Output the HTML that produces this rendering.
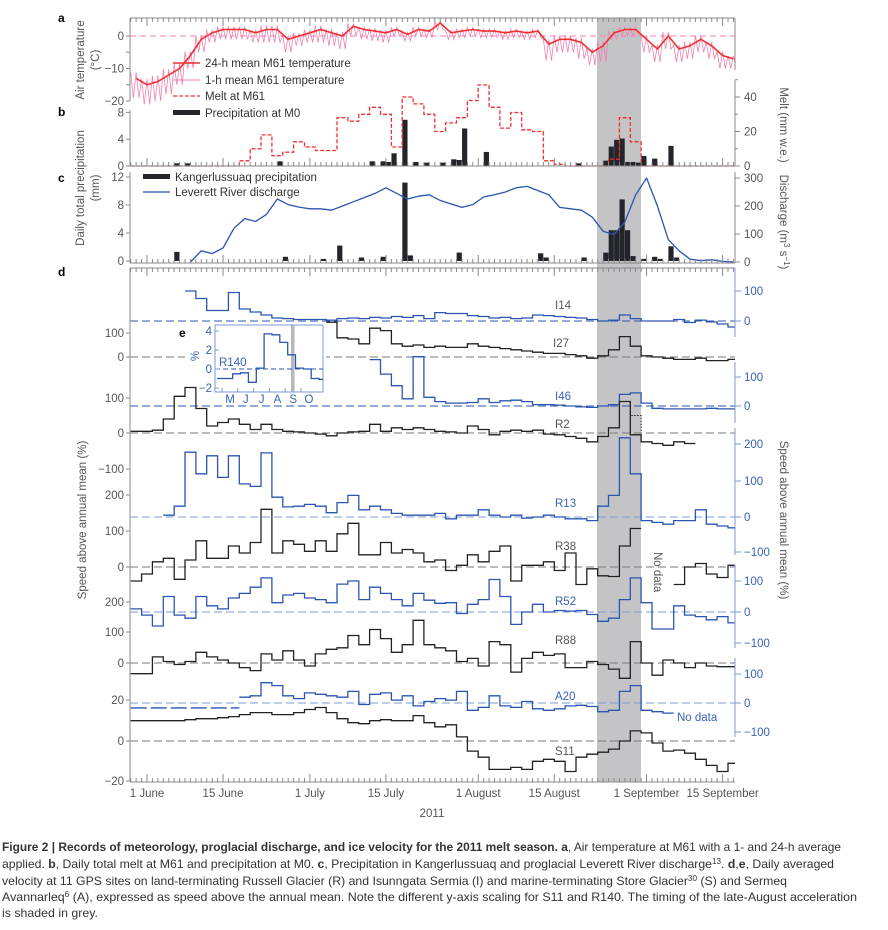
<!DOCTYPE html>
<html><head><meta charset="utf-8"><style>
body{margin:0;background:#fff;}
svg{display:block;font-family:"Liberation Sans",sans-serif;}
.t{font-size:11.5px;fill:#555;}
.tb{font-size:11.5px;fill:#3a62b8;}
.lg{font-size:11.5px;fill:#333;}
</style></head><body>
<svg id="fig" width="888" height="930" viewBox="0 0 888 930" xmlns="http://www.w3.org/2000/svg">
<defs><clipPath id="pc"><rect x="130" y="10" width="605" height="780"/></clipPath></defs>
<rect x="597" y="18" width="44" height="764" fill="#c4c4c6"/>
<g id="marks" clip-path="url(#pc)"></g>
<g id="axes" stroke="#888" fill="none" stroke-width="1"></g>
<text x="58" y="22" font-size="12" font-weight="bold">a</text>
<text x="58" y="116" font-size="12" font-weight="bold">b</text>
<text x="58" y="182" font-size="12" font-weight="bold">c</text>
<text x="58" y="276" font-size="12" font-weight="bold">d</text>
<text class="t" transform="translate(84,60) rotate(-90)" text-anchor="middle">Air temperature</text>
<text class="t" transform="translate(99,60) rotate(-90)" text-anchor="middle">(°C)</text>
<text class="t" transform="translate(84,188) rotate(-90)" text-anchor="middle">Daily total precipitation</text>
<text class="t" transform="translate(99,188) rotate(-90)" text-anchor="middle">(mm)</text>
<text class="t" transform="translate(780,125) rotate(90)" text-anchor="middle">Melt (mm w.e.)</text>
<text class="t" transform="translate(780,222) rotate(90)" text-anchor="middle">Discharge (m<tspan font-size="8" dy="-4">3</tspan><tspan dy="4"> s</tspan><tspan font-size="8" dy="-4">−1</tspan><tspan dy="4">)</tspan></text>
<text class="t" transform="translate(86,520) rotate(-90)" text-anchor="middle">Speed above annual mean (%)</text>
<text class="t" transform="translate(780,520) rotate(90)" text-anchor="middle">Speed above annual mean (%)</text>
<line x1="173" y1="63" x2="200" y2="63" stroke="#f03030" stroke-width="1.6"/>
<text class="lg" x="205" y="67">24-h mean M61 temperature</text>
<line x1="173" y1="80" x2="200" y2="80" stroke="#f080b0" stroke-width="1"/>
<text class="lg" x="205" y="84">1-h mean M61 temperature</text>
<line x1="173" y1="96" x2="200" y2="96" stroke="#f03030" stroke-width="1.3" stroke-dasharray="4,2"/>
<text class="lg" x="205" y="100">Melt at M61</text>
<rect x="173" y="110" width="27" height="5" fill="#23252b"/>
<text class="lg" x="205" y="117">Precipitation at M0</text>
<rect x="143" y="174" width="27" height="5" fill="#23252b"/>
<text class="lg" x="175" y="181">Kangerlussuaq precipitation</text>
<line x1="143" y1="192" x2="170" y2="192" stroke="#2a55b0" stroke-width="1.2"/>
<text class="lg" x="175" y="196">Leverett River discharge</text>
<text class="t" x="555" y="309">I14</text>
<text class="t" x="553" y="347">I27</text>
<text class="tb" x="555" y="400">I46</text>
<text class="t" x="555" y="428">R2</text>
<text class="tb" x="555" y="507">R13</text>
<text class="t" x="555" y="550">R38</text>
<text class="tb" x="555" y="605">R52</text>
<text class="t" x="555" y="644">R88</text>
<text class="tb" x="555" y="700">A20</text>
<text class="t" x="555" y="755">S11</text>
<text class="t" transform="translate(654,552) rotate(90)">No data</text>
<text class="tb" x="677" y="721">No data</text>
<g id="dates" class="t" text-anchor="middle"></g>
<text class="t" x="432" y="817" text-anchor="middle">2011</text>
<g font-size="12" fill="#333">
<text x="2" y="851" textLength="839" lengthAdjust="spacingAndGlyphs"><tspan font-weight="bold">Figure 2 | Records of meteorology, proglacial discharge, and ice velocity for the 2011 melt season. a</tspan>, Air temperature at M61 with a 1- and 24-h average</text>
<text x="2" y="868" textLength="832" lengthAdjust="spacingAndGlyphs">applied. <tspan font-weight="bold">b</tspan>, Daily total melt at M61 and precipitation at M0. <tspan font-weight="bold">c</tspan>, Precipitation in Kangerlussuaq and proglacial Leverett River discharge<tspan font-size="8" dy="-4">13</tspan><tspan dy="4">. </tspan><tspan font-weight="bold">d</tspan>,<tspan font-weight="bold">e</tspan>, Daily averaged</text>
<text x="2" y="885" textLength="785" lengthAdjust="spacingAndGlyphs">velocity at 11 GPS sites on land-terminating Russell Glacier (R) and Isunngata Sermia (I) and marine-terminating Store Glacier<tspan font-size="8" dy="-4">30</tspan><tspan dy="4"> (S) and Sermeq</tspan></text>
<text x="2" y="901" textLength="855" lengthAdjust="spacingAndGlyphs">Avannarleq<tspan font-size="8" dy="-4">6</tspan><tspan dy="4"> (A), expressed as speed above the annual mean. Note the different y-axis scaling for S11 and R140. The timing of the late-August acceleration</tspan></text>
<text x="2" y="917" textLength="96" lengthAdjust="spacingAndGlyphs">is shaded in grey.</text>
</g>
</svg>
<script>
const N=null;
// 2-day bins: index i covers days (-3+2i) .. (-1+2i), day 0 = 1 June
const temp24=[-13,-15,-14,-12,-10,-6,-1,1,2,2, 2,1,2,2,-1,0,1,2,1,0, 3,2,1.5,1,2,0.5,2,1.5,4,1, 1.5,2,1.5,1.5,1,1.5,1,1.5,-2.5,-1, -1,-2,-5,-3,1,2,2,-1,-4,0, -4,-3,-1,-3,-6,-7];
const tempAmp=[6,6,6,6,5,4,4,3,3,3, 3,3,4,4,4,3,3,4,4,4, 3,3,3,3,2,2,2,2,2,2, 2,2,2,2,2,2,2,2,5,4, 4,5,4,5,2,2,2,4,4,4, 4,4,4,4,4,3];
const melt=[0,0,0,0,0,0,0,0,0,0, 3,10,18,6,8,14,11,9,9,28, 26,30,34,30,11,40,36,30,20,25, 28,38,47,34,22,31,21,20,3,1, 0,0,0,0,4,28,14,0,0,0, 0,0,0,0,0,0];
const precipM0Days=[5,7,24,41,43,44,45,47,49,51,54,56,57,58,62,79,84,85,86,87,88,89,90,91,93,96];
const precipM0=[0.4,0.4,0.7,0.7,0.7,0.6,1.9,6.9,0.6,0.5,0.5,1.0,0.9,5.6,2.1,0.4,0.8,2.9,3.9,4.1,0.6,0.6,0.5,1.5,1.1,3.0];
const kangerDays=[5,25,32,35,39,43,47,48,57,72,73,80,84,85,86,87,88,89,91,93,94,96,97];
const kangerPrecip=[1.3,0.6,0.3,2.2,0.5,0.6,11.2,0.8,1.2,1.1,0.5,0.5,1.2,4.4,4.4,8.8,4.4,0.7,0.3,0.6,0.3,2.1,0.5];
const discharge=[N,N,N,N,N,0,40,30,50,120, 155,145,170,225,205,196,190,190,185,200, 215,230,245,265,245,225,235,240,220,207, 195,205,232,240,250,265,270,255,240,195, 190,185,160,110,98,143,240,300,200,80, 40,10,5,8,2,0];
const I14=[N,N,N,N,N,100,75,35,35,95, 40,30,20,10,8,5,5,5,3,8, 10,8,12,10,15,12,18,8,28,25, 25,18,15,10,12,8,10,20,18,15, 12,10,5,0,3,20,8,0,0,0, 5,-5,3,-3,-10,-20];
const I27=[N,N,N,N,N,N,N,N,N,N, N,N,N,N,N,N,N,N,145,80, 75,55,120,110,55,45,50,40,45,40, 40,55,45,40,35,30,25,20,15,15, 10,5,-5,5,30,85,45,5,0,-5, -10,-10,-5,-15,-15,-10];
const I46=[N,N,N,N,N,N,N,N,N,N, N,N,N,N,N,N,N,N,N,N, N,N,160,110,70,25,170,30,15,10, 10,12,25,12,18,20,15,5,5,3, 0,-3,-5,0,5,40,45,10,-8,-10, -10,-10,-10,-8,-10,-10];
const R2=[5,5,8,40,105,130,70,20,30,40, 25,10,25,10,5,3,0,-3,-8,0, 3,5,25,5,15,10,15,10,5,3, 0,20,10,-5,5,8,5,8,-3,-5, -10,-15,-25,-10,15,90,-5,-25,-30,-35, -25,-30,N,N,N,N];
const R13=[N,N,N,5,30,180,120,170,110,170, 92,85,178,55,28,30,35,30,12,40, 60,20,30,20,10,5,5,5,10,-5, 5,5,20,5,0,5,-3,0,5,0, -5,-5,-10,30,60,220,120,-10,-15,-20, -10,-10,20,-20,-25,-30];
const R38=[-40,-20,15,25,-35,20,75,25,25,60, 40,70,165,40,75,65,45,75,45,95, 125,35,35,70,40,50,40,15,20,-10, 5,35,15,45,60,-40,5,5,15,-10, 40,-50,-5,-25,-27,60,110,N,N,N, -50,0,10,-20,-30,5];
const R52=[10,-10,-45,50,-10,-20,50,20,10,45, 60,80,110,30,55,60,45,40,30,90, 100,40,80,60,40,20,60,38,28,30, -5,25,40,105,50,-40,0,25,0,5, 3,5,-8,-30,-20,40,110,30,-55,-55, 20,-10,-15,-25,-15,-35];
const R88=[-35,-35,20,5,-5,5,35,20,10,0, -15,-25,30,10,40,10,-10,30,45,50, 90,60,110,80,35,60,140,60,50,40, 5,15,-10,70,60,-30,15,35,25,30, -15,-15,5,-5,-20,-50,70,0,-40,10, 0,-15,0,-10,-12,-12];
const A20=[N,N,N,N,N,N,N,N,N,N, 20,25,70,60,25,15,35,30,25,20, 40,-5,30,35,10,25,-10,5,15,10, 40,-25,-15,25,-10,-15,5,-20,-25,-20, -10,-8,-12,-30,-25,40,60,-25,-30,-35, N,N,N,N,N,N];
const A20gapValue=-17;
const S11=[10,10,10,10,10,10.5,11,11,11.5,12, 13,14,14,13,13,14,15.5,16.5,14,11, 9,8.5,10,10.5,10,10,12.5,9,7,8, 2,-5,-8,-14,-14,-13,-14,-10,-9,-10, -15,-8,-6.5,-5.5,-4,0,5,4,-1,-5, -4.5,-6,-9,-12,-15,-11];
const R140=[-1,-1,-0.5,-0.4,-1.4,0.1,3.7,3.6,2.8,1.5,0.1,0,-1,-1.1];
const insetMonths=['M','J','J','A','S','O'];
const insetTicks=[4,2,0,-2];
const dateLabels=['1 June','15 June','1 July','15 July','1 August','15 August','1 September','15 September'];
const dateDays=[0,14,30,44,61,75,92,106];

const NS='http://www.w3.org/2000/svg';
const svg=document.getElementById('fig');
const marks=document.getElementById('marks');
const axes=document.getElementById('axes');
const BLUE='#2a55b0',BLK='#222',RED='#f03030',PINK='#f080b0',GREY='#777';
function xd(d){return 147+5.43*d;}
function mk(tag,attrs,parent){const e=document.createElementNS(NS,tag);for(const k in attrs)e.setAttribute(k,attrs[k]);(parent||marks).appendChild(e);return e;}
function stepPath(vals,yf){let p='',pen=false;vals.forEach((v,i)=>{if(v==null){pen=false;return;}const x0=xd(-3+2*i),x1=xd(-1+2*i),y=yf(v).toFixed(1);if(!pen){p+='M'+x0.toFixed(1)+','+y;pen=true;}else p+='V'+y;p+='H'+x1.toFixed(1);});return p;}
const ya=t=>36-3.25*t, yb=m=>166-6.7*m, ym=v=>166-1.725*v, yc=m=>261-7*m, yq=v=>262-0.28*v;

function line(x1,y1,x2,y2,attrs,name){const e=mk('line',Object.assign({x1,y1,x2,y2},attrs||{}),axes);return e;}
function label(x,y,txt,cls,anchor,name){const e=mk('text',{x,y,class:cls,'text-anchor':anchor,stroke:'none'},svg);e.textContent=txt;return e;}
function dayTicks(y,dir){for(let d=-3;d<=108;d++){const maj=dateDays.indexOf(d)>=0;const l=maj?8:4;line(xd(d),y,xd(d),y+dir*l,{},'day-tick');}}
line(130,18,735,18,{},'panel-a-top-spine');line(130,18,130,101,{},'panel-a-left-spine');line(735,18,735,70,{},'panel-a-right-spine');
dayTicks(18,1);
[[0,'0'],[-10,'−10'],[-20,'−20']].forEach(([v,s])=>{line(126,ya(v),130,ya(v),{},'temp-tick');label(124,ya(v)+4,s,'t','end','temp-tick-label');});
line(126,ya(-5),130,ya(-5),{},'temp-minor-tick');line(126,ya(-15),130,ya(-15),{},'temp-minor-tick');
line(130,110,130,166,{},'panel-b-left-spine');line(735,80,735,166,{},'panel-b-right-spine');line(130,166,735,166,{},'panel-b-bottom-spine');
dayTicks(166,-1);
[[8,'8'],[4,'4'],[0,'0']].forEach(([v,s])=>{line(126,yb(v),130,yb(v),{},'precip-b-tick');label(124,yb(v)+4,s,'t','end','precip-b-tick-label');});
[[40,'40'],[20,'20'],[0,'0']].forEach(([v,s])=>{line(735,ym(v),740,ym(v),{},'melt-tick');label(744,ym(v)+4,s,'t','start','melt-tick-label');});
[10,30,50].forEach(v=>line(735,ym(v),738,ym(v),{},'melt-minor-tick'));
line(130,172,130,263,{},'panel-c-left-spine');line(735,172,735,263,{},'panel-c-right-spine');line(130,263,735,263,{},'panel-c-bottom-spine');
dayTicks(263,-1);
[[12,'12'],[8,'8'],[4,'4'],[0,'0']].forEach(([v,s])=>{line(126,yc(v),130,yc(v),{},'precip-c-tick');label(124,yc(v)+4,s,'t','end','precip-c-tick-label');});
[[300,'300'],[200,'200'],[100,'100'],[0,'0']].forEach(([v,s])=>{line(735,yq(v),740,yq(v),{},'discharge-tick');label(744,yq(v)+4,s,'t','start','discharge-tick-label');});
line(130,268,735,268,{},'panel-d-top-spine');dayTicks(268,1);
line(130,268,130,782,{},'panel-d-left-spine');line(130,782,735,782,{},'panel-d-bottom-spine');dayTicks(782,-1);
const leftTicks=[[333,'100'],[357,'0'],[398,'100'],[433,'0'],[469,'−100'],[495,'200'],[531,'100'],[567,'0'],[602,'200'],[632,'100'],[663,'0'],[700,'20'],[741,'0'],[781,'−20']];
leftTicks.forEach(([y,s])=>{line(126,y,130,y,{},'speed-left-tick');label(124,y+4,s,'t','end','speed-left-tick-label');});
[[268,337],[362,423],[428,555],[565,648],[658,737]].forEach(([a,b])=>line(735,a,735,b,{stroke:'#7d9ad8'},'speed-right-spine'));
const rightTicks=[[291,'100'],[321,'0'],[377,'100'],[406,'0'],[444,'200'],[481,'100'],[517,'0'],[552,'−100'],[581,'100'],[612,'0'],[643,'−100'],[674,'100'],[703,'0'],[732,'−100']];
rightTicks.forEach(([y,s])=>{line(735,y,741,y,{stroke:'#7d9ad8'},'speed-right-tick');label(744,y+4,s,'tb','start','speed-right-tick-label');});
const dg=document.getElementById('dates');
dateLabels.forEach((s,k)=>{const e=mk('text',{x:xd(dateDays[k]),y:797},dg);e.textContent=s;});

const zeroLines=[[36,PINK,'6,4'],[321,BLUE,'8,4'],[357,GREY,'8,4'],[406,BLUE,'8,4'],[433,GREY,'8,4'],[517,'#7d9ad8','8,4'],[567,GREY,'8,4'],[612,'#7d9ad8','8,4'],[663,GREY,'8,4'],[703,'#7d9ad8','8,4'],[741,GREY,'8,4']];
zeroLines.forEach(([y,c,da])=>{const e=mk('line',{x1:130,y1:y,x2:735,y2:y,stroke:c,'stroke-dasharray':da,'stroke-width':1.1});});

let pk='';temp24.forEach((m,i)=>{for(let j=0;j<2;j++){const d=-3+2*i+j;pk+=(pk?'L':'M')+xd(d).toFixed(1)+','+ya(m+0.3*tempAmp[i]).toFixed(1)+'L'+xd(d+0.5).toFixed(1)+','+ya(m-tempAmp[i]).toFixed(1);}});
let e=mk('path',{d:pk,fill:'none',stroke:PINK,'stroke-width':0.8});

let p24='';temp24.forEach((m,i)=>{p24+=(p24?'L':'M')+xd(-2+2*i).toFixed(1)+','+ya(m).toFixed(1);});
e=mk('path',{d:p24,fill:'none',stroke:RED,'stroke-width':1.6});

precipM0.forEach((v,k)=>{const b=mk('rect',{x:xd(precipM0Days[k]+0.5)-2.6,y:yb(v),width:5.2,height:166-yb(v),fill:'#23252b'});});
e=mk('path',{d:stepPath(melt,ym),fill:'none',stroke:RED,'stroke-width':1.3,'stroke-dasharray':'4,2'});

kangerPrecip.forEach((v,k)=>{const b=mk('rect',{x:xd(kangerDays[k]+0.5)-2.6,y:yc(v),width:5.2,height:261-yc(v),fill:'#23252b'});});
let pq='';discharge.forEach((v,i)=>{if(v==null)return;pq+=(pq?'L':'M')+xd(-2+2*i).toFixed(1)+','+yq(v).toFixed(1);});
e=mk('path',{d:pq,fill:'none',stroke:BLUE,'stroke-width':1.3,'stroke-linejoin':'round'});


e=mk('rect',{x:185,y:322,width:141,height:82,fill:'#fff'});


const series=[['i14',I14,321,0.30,BLUE],['i27',I27,357,0.24,BLK],['i46',I46,406,0.29,BLUE],['r2',R2,433,0.35,BLK],['r13',R13,517,0.36,BLUE],['r38',R38,567,0.35,BLK],['r52',R52,612,0.31,BLUE],['r88',R88,663,0.305,BLK],['a20',A20,703,0.29,BLUE],['s11',S11,741,2.03,BLK]];
series.forEach(([nm,vals,z,k,c])=>{const s=mk('path',{d:stepPath(vals,v=>z-k*v),fill:'none',stroke:c,'stroke-width':1.3});});
e=mk('line',{x1:xd(-3),x2:xd(17),y1:703-0.29*A20gapValue,y2:703-0.29*A20gapValue,stroke:BLUE,'stroke-width':1.3,'stroke-dasharray':'16,4'});

e=mk('path',{d:'M'+xd(89)+','+(433-0.35*90)+'V'+(433-0.35*50)+'H'+xd(91)+'V433',fill:'none',stroke:BLK,'stroke-dasharray':'1.5,1.5'});


const ins=mk('g',{},svg);
const yi=v=>369-9.5*v;
e=mk('rect',{x:291,y:325,width:3.5,height:67,fill:'#b8b8b8'},ins);
e=mk('rect',{x:215,y:325,width:108,height:67,fill:'none',stroke:'#7d9ad8'},ins);
e=mk('line',{x1:215,x2:323,y1:yi(0),y2:yi(0),stroke:BLUE,'stroke-dasharray':'5,3'},ins);
let pr='';R140.forEach((v,k)=>{const x0=217+7.85*k,x1=Math.min(323,x0+7.85);pr+=(pr?'V':'M'+x0+',')+yi(v).toFixed(1)+'H'+x1.toFixed(1);});
e=mk('path',{d:pr,fill:'none',stroke:BLUE,'stroke-width':1.3},ins);
insetTicks.forEach(v=>{const t=mk('line',{x1:215,x2:219,y1:yi(v),y2:yi(v),stroke:'#7d9ad8'},ins);
 const l=mk('text',{x:212,y:yi(v)+4,class:'tb','text-anchor':'end'},ins);l.textContent=v<0?'−'+(-v):String(v);});
insetMonths.forEach((m,k)=>{const x=230+15.8*k;const t=mk('line',{x1:x-8,x2:x-8,y1:392,y2:388,stroke:'#7d9ad8'},ins);
 const l=mk('text',{x:x,y:403,class:'tb','text-anchor':'middle'},ins);l.textContent=m;});
e=mk('text',{x:219,y:366,class:'tb'},ins);e.textContent='R140';
e=mk('text',{x:179,y:337,'font-size':12,'font-weight':'bold'},ins);e.textContent='e';
e=mk('text',{transform:'translate(199,356) rotate(-90)',class:'tb','text-anchor':'middle'},ins);e.textContent='%';
</script>
</body></html>
